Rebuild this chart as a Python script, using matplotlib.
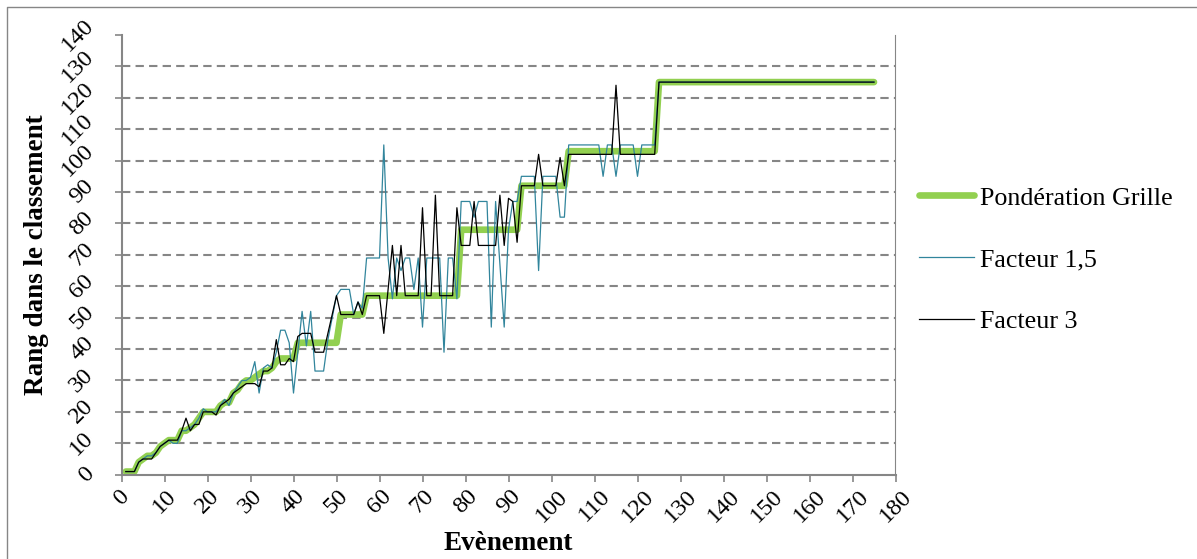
import numpy as np
import matplotlib.pyplot as plt
from matplotlib.lines import Line2D

plt.rcParams['font.family'] = ['Liberation Serif', 'DejaVu Serif']

# rank after each event (events 1..175)
ponderation_grille = [
    1, 1, 1, 4, 5, 6, 6, 7, 9, 10,
    11, 11, 11, 14, 14, 15, 16, 18, 20, 20,
    20, 20, 22, 23, 23, 26, 27, 29, 30, 30,
    31, 32, 33, 33, 34, 36, 37, 37, 37, 37,
    42, 42, 42, 42, 42, 42, 42, 42, 42, 42,
    51, 51, 51, 51, 51, 51, 57, 57, 57, 57,
    57, 57, 57, 57, 57, 57, 57, 57, 57, 57,
    57, 57, 57, 57, 57, 57, 57, 57, 78, 78,
    78, 78, 78, 78, 78, 78, 78, 78, 78, 78,
    78, 78, 92, 92, 92, 92, 92, 92, 92, 92,
    92, 92, 92, 103, 103, 103, 103, 103, 103, 103,
    103, 103, 103, 103, 103, 103, 103, 103, 103, 103,
    103, 103, 103, 103, 125, 125, 125, 125, 125, 125,
    125, 125, 125, 125, 125, 125, 125, 125, 125, 125,
    125, 125, 125, 125, 125, 125, 125, 125, 125, 125,
    125, 125, 125, 125, 125, 125, 125, 125, 125, 125,
    125, 125, 125, 125, 125, 125, 125, 125, 125, 125,
    125, 125, 125, 125, 125,
]
facteur_1_5 = [
    1, 1, 1, 4, 5, 6, 6, 7, 9, 10,
    11, 10, 10, 14, 14, 15, 16, 18, 21, 20,
    20, 20, 22, 24, 22, 26, 28, 30, 30, 31,
    36, 26, 34, 35, 34, 39, 46, 46, 42, 26,
    39, 52, 41, 52, 33, 33, 33, 43, 50, 57,
    59, 59, 59, 51, 55, 53, 69, 69, 69, 69,
    105, 69, 56, 69, 65, 69, 69, 59, 69, 47,
    69, 69, 69, 69, 39, 69, 69, 56, 87, 87,
    87, 82, 87, 87, 87, 47, 87, 67, 47, 78,
    87, 87, 95, 95, 95, 95, 65, 95, 95, 95,
    95, 82, 82, 105, 105, 105, 105, 105, 105, 105,
    105, 95, 105, 105, 95, 105, 105, 105, 105, 95,
    105, 105, 105, 105, 125, 125, 125, 125, 125, 125,
    125, 125, 125, 125, 125, 125, 125, 125, 125, 125,
    125, 125, 125, 125, 125, 125, 125, 125, 125, 125,
    125, 125, 125, 125, 125, 125, 125, 125, 125, 125,
    125, 125, 125, 125, 125, 125, 125, 125, 125, 125,
    125, 125, 125, 125, 125,
]
facteur_3 = [
    1, 1, 1, 4, 5, 5, 5, 7, 9, 10,
    11, 11, 11, 14, 18, 14, 16, 16, 20, 20,
    20, 19, 22, 23, 24, 26, 27, 28, 29, 29,
    29, 28, 33, 33, 34, 43, 35, 35, 37, 36,
    44, 45, 45, 45, 39, 39, 39, 45, 51, 57,
    51, 51, 51, 51, 55, 51, 57, 57, 57, 57,
    45, 59, 73, 57, 73, 57, 57, 57, 57, 85,
    57, 57, 89, 57, 57, 57, 57, 85, 73, 73,
    73, 87, 73, 73, 73, 73, 73, 89, 73, 88,
    87, 74, 92, 92, 92, 92, 102, 92, 92, 92,
    92, 101, 92, 102, 102, 102, 102, 102, 102, 102,
    102, 102, 102, 102, 124, 102, 102, 102, 102, 102,
    102, 102, 102, 102, 125, 125, 125, 125, 125, 125,
    125, 125, 125, 125, 125, 125, 125, 125, 125, 125,
    125, 125, 125, 125, 125, 125, 125, 125, 125, 125,
    125, 125, 125, 125, 125, 125, 125, 125, 125, 125,
    125, 125, 125, 125, 125, 125, 125, 125, 125, 125,
    125, 125, 125, 125, 125,
]
events = np.arange(1, len(ponderation_grille) + 1)

W, H = 1197, 559
fig = plt.figure(figsize=(W / 100, H / 100), dpi=100)
ax = fig.add_axes([121.5 / W, 1 - 474.7 / H, (895.5 - 121.5) / W, (474.7 - 35) / H])

ax.plot(events, ponderation_grille, color='#92D050', lw=4.8, solid_joinstyle='round',
        solid_capstyle='round', label='Pondération Grille')
ax.plot(events, facteur_1_5, color='#31859C', lw=0.9, label='Facteur 1,5')
ax.plot(events, facteur_3, color='black', lw=0.9, label='Facteur 3')

ax.set_xlim(0, 180)
ax.set_ylim(0, 140)
ax.set_xticks(np.arange(0, 181, 10))
ax.set_yticks(np.arange(0, 141, 10))

for y in range(10, 140, 10):
    ax.axhline(y, color='#868686', lw=1.5, ls=(0, (4, 2.5)), zorder=0)

for s in ['left', 'bottom']:
    ax.spines[s].set_color('#868686')
    ax.spines[s].set_linewidth(1.5)
for s in ['right', 'top']:
    ax.spines[s].set_color('#868686')
    ax.spines[s].set_linewidth(0.8)
ax.spines['top'].set_visible(False)

ax.tick_params(axis='both', color='#868686', width=1.2, length=5, labelsize=17.5)
for lab in ax.get_xticklabels():
    lab.set_rotation(45)
    lab.set_ha('center')
    lab.set_va('top')
for lab in ax.get_yticklabels():
    lab.set_rotation(45)
    lab.set_ha('right')
    lab.set_va('center')
ax.tick_params(axis='y', pad=12)
ax.tick_params(axis='x', pad=3)

ax.set_xlabel('Evènement', fontsize=19.5, fontweight='bold', labelpad=3)
ax.set_ylabel('Rang dans le classement', fontsize=19.5, fontweight='bold', labelpad=6)

handles = [Line2D([], [], color='#92D050', lw=4.8, solid_capstyle='round'),
           Line2D([], [], color='#31859C', lw=0.9),
           Line2D([], [], color='black', lw=0.9)]
fig.legend(handles, ['Pondération Grille', 'Facteur 1,5', 'Facteur 3'],
           loc='upper left', bbox_to_anchor=(896 / W, 1 - 163 / H), frameon=False,
           fontsize=18.7, handlelength=2.1, handletextpad=0.25, labelspacing=1.48)

# chart area border (only the left and top edges fall inside the picture)
fig.add_artist(Line2D([7 / W, 7 / W, 1.0], [0.0, 1 - 7 / H, 1 - 7 / H],
                      transform=fig.transFigure, color='#868686', lw=1.0))

fig.savefig('out.png', dpi=100)
